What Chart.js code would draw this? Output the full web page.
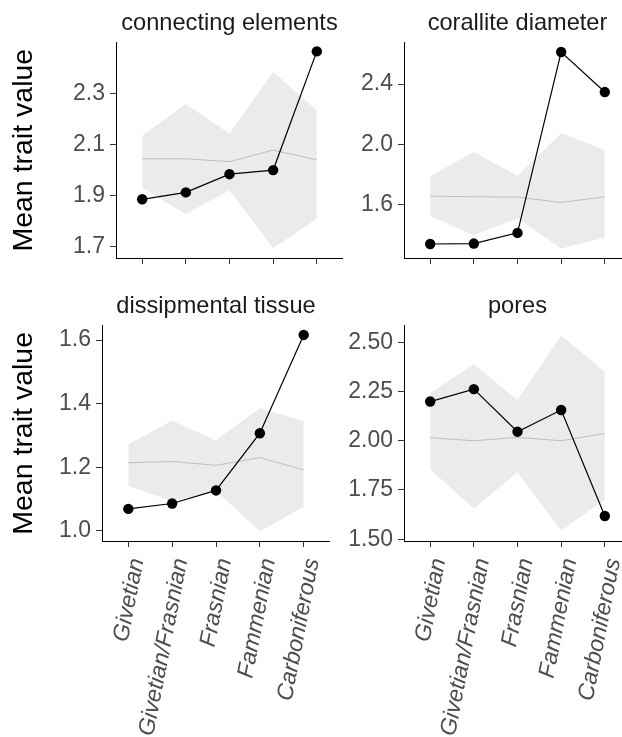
<!DOCTYPE html>
<html lang="en">
<head>
  <meta charset="UTF-8" />
  <title>Mean trait value through time</title>
  <script src="https://cdn.jsdelivr.net/npm/chart.js"></script>
  <style>
    html, body { margin: 0; padding: 0; background: #fff; overflow: hidden; }
    #wrap { position: relative; width: 622px; height: 737px; overflow: hidden; }
    canvas { position: absolute; }
  </style>
</head>
<body>
  <div id="wrap">
    <canvas id="c1" width="343" height="270" style="left:0;top:0"></canvas>
    <canvas id="c2" width="287" height="270" style="left:344px;top:0"></canvas>
    <canvas id="c3" width="330" height="455" style="left:0;top:282px"></canvas>
    <canvas id="c4" width="287" height="455" style="left:344px;top:282px"></canvas>
  </div>

  <script>
    const periods = ["Givetian", "Givetian/Frasnian", "Frasnian", "Fammenian", "Carboniferous"];

    // connecting elements
    const connObs   = [1.886, 1.913, 1.984, 2.000, 2.463];
    const connMean  = [2.044, 2.044, 2.033, 2.078, 2.040];
    const connUpper = [2.134, 2.258, 2.143, 2.383, 2.233];
    const connLower = [1.930, 1.829, 1.921, 1.695, 1.810];
    const connTicks = [1.7, 1.9, 2.1, 2.3];
    const connRange = [1.657, 2.498];

    // corallite diameter
    const coralObs   = [1.337, 1.340, 1.411, 2.613, 2.347];
    const coralMean  = [1.655, 1.651, 1.649, 1.613, 1.651];
    const coralUpper = [1.789, 1.949, 1.791, 2.073, 1.962];
    const coralLower = [1.524, 1.395, 1.507, 1.307, 1.380];
    const coralTicks = [1.6, 2.0, 2.4];
    const coralRange = [1.244, 2.677];

    // dissipmental tissue
    const dissObs   = [1.069, 1.086, 1.127, 1.307, 1.616];
    const dissMean  = [1.214, 1.218, 1.206, 1.230, 1.192];
    const dissUpper = [1.272, 1.346, 1.285, 1.386, 1.345];
    const dissLower = [1.141, 1.094, 1.126, 0.999, 1.075];
    const dissTicks = [1.0, 1.2, 1.4, 1.6];
    const dissRange = [0.968, 1.645];

    // pores
    const poresObs   = [2.199, 2.262, 2.046, 2.156, 1.618];
    const poresMean  = [2.015, 2.000, 2.017, 2.000, 2.037];
    const poresUpper = [2.242, 2.389, 2.207, 2.534, 2.350];
    const poresLower = [1.855, 1.655, 1.840, 1.544, 1.700];
    const poresTicks = [1.5, 1.75, 2.0, 2.25, 2.5];
    const poresRange = [1.491, 2.584];

    const FONT = "'Liberation Sans', Arial, Helvetica, sans-serif";
    const pts = arr => arr.map((v, i) => ({ x: i, y: v }));

    function panel(id, cfg) {
      const line = { borderWidth: 0, pointRadius: 0, tension: 0 };
      new Chart(document.getElementById(id), {
        type: "line",
        data: {
          datasets: [
            { ...line, data: pts(cfg.lower), fill: false, order: 4 },
            { ...line, data: pts(cfg.upper), fill: "-1", backgroundColor: "#EBEBEB", order: 3 },
            { data: pts(cfg.mean), borderColor: "#BEBEBE", borderWidth: 1, pointRadius: 0, fill: false, order: 2 },
            { data: pts(cfg.obs), borderColor: "#000", borderWidth: 1.2, pointRadius: 5.2,
              pointBackgroundColor: "#000", pointBorderWidth: 0, fill: false, order: 1 }
          ]
        },
        options: {
          responsive: false,
          animation: false,
          events: [],
          clip: false,
          layout: { padding: 0, autoPadding: false },
          plugins: {
            legend: { display: false },
            tooltip: { enabled: false },
            title: {
              display: true, text: cfg.title, fullSize: false,
              color: "#1A1A1A", font: { family: FONT, size: 23.6, weight: "normal" },
              padding: { top: cfg.titleTop, bottom: cfg.titleGap }
            }
          },
          scales: {
            x: {
              type: "linear", min: -0.6, max: 4.6,
              afterBuildTicks: s => { s.ticks = periods.map((p, i) => ({ value: i })); },
              afterFit: s => { s.height = cfg.xHeight; s.paddingLeft = 0; s.paddingRight = 0; },
              border: { display: true, color: "#000", width: 1 },
              grid: { drawOnChartArea: false, drawTicks: true, tickLength: 6, tickColor: "#333", tickWidth: 1 },
              ticks: {
                display: cfg.xLabels, autoSkip: false, minRotation: 79, maxRotation: 79,
                padding: 9, labelOffset: 9, color: "#4D4D4D",
                font: { family: FONT, size: 23, style: "italic" },
                callback: v => periods[v]
              }
            },
            y: {
              min: cfg.range[0], max: cfg.range[1],
              afterBuildTicks: s => { s.ticks = cfg.ticks.map(v => ({ value: v })); },
              afterFit: s => { s.width = cfg.yWidth; s.paddingTop = 0; s.paddingBottom = 0; },
              border: { display: true, color: "#000", width: 1 },
              grid: { drawOnChartArea: false, drawTicks: true, tickLength: 6, tickColor: "#333", tickWidth: 1 },
              ticks: {
                padding: 5, color: "#4D4D4D",
                font: { family: FONT, size: 23 },
                callback: v => v.toFixed(cfg.digits)
              },
              title: {
                display: cfg.yTitle, text: "Mean trait value", color: "#000",
                font: { family: FONT, size: 28.5 }, padding: { top: 7, bottom: 0 }
              }
            }
          }
        }
      });
    }

    panel("c1", { title: "connecting elements", obs: connObs, mean: connMean, upper: connUpper, lower: connLower,
      ticks: connTicks, range: connRange, digits: 1, yWidth: 116, xHeight: 12, xLabels: false, yTitle: true,
      titleTop: 9, titleGap: 5.1 });
    panel("c2", { title: "corallite diameter", obs: coralObs, mean: coralMean, upper: coralUpper, lower: coralLower,
      ticks: coralTicks, range: coralRange, digits: 1, yWidth: 60, xHeight: 12, xLabels: false, yTitle: false,
      titleTop: 9, titleGap: 5.1 });
    panel("c3", { title: "dissipmental tissue", obs: dissObs, mean: dissMean, upper: dissUpper, lower: dissLower,
      ticks: dissTicks, range: dissRange, digits: 1, yWidth: 102, xHeight: 196, xLabels: true, yTitle: true,
      titleTop: 10, titleGap: 5.4 });
    panel("c4", { title: "pores", obs: poresObs, mean: poresMean, upper: poresUpper, lower: poresLower,
      ticks: poresTicks, range: poresRange, digits: 2, yWidth: 60, xHeight: 196, xLabels: true, yTitle: false,
      titleTop: 10, titleGap: 5.4 });
  </script>
</body>
</html>
